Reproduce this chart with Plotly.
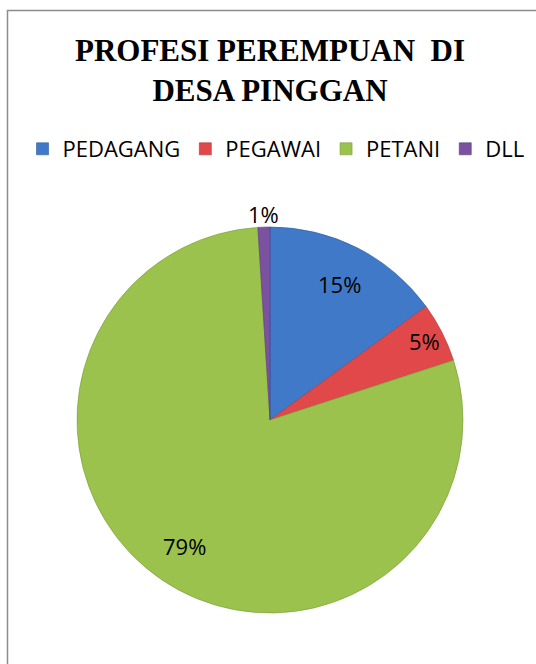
import math
import plotly.graph_objects as go

categories = ["PEDAGANG", "PEGAWAI", "PETANI", "DLL"]
values = [15, 5, 79, 1]
colors = ["#4179C9", "#E0484A", "#9BC24C", "#7A52A0"]
edge_colors = ["#2F5C9E", "#B33436", "#769A37", "#5A3A7C"]
label_radius = [0.79, 0.90, 0.79, 1.07]

W, H = 536, 664
cx, cy, r = 270, 420, 193

fig = go.Figure(
    go.Pie(
        labels=categories,
        values=values,
        sort=False,
        direction="clockwise",
        rotation=0,
        marker=dict(colors=colors, line=dict(color=edge_colors, width=0.6)),
        textinfo="none",
        domain=dict(x=[(cx - r) / W, (cx + r) / W], y=[(H - cy - r) / H, (H - cy + r) / H]),
        hoverinfo="label+percent",
    )
)

# percentage labels placed along each slice's mid-angle
total = sum(values)
annotations = []
cum = 0
for v, f in zip(values, label_radius):
    mid = (cum + v / 2) / total * 2 * math.pi
    cum += v
    px = cx + f * r * math.sin(mid)
    py = cy - f * r * math.cos(mid)
    annotations.append(
        dict(
            text=f"{round(100 * v / total)}%",
            x=px / W,
            y=1 - py / H,
            xref="paper",
            yref="paper",
            xanchor="center",
            yanchor="middle",
            showarrow=False,
            font=dict(family="Open Sans", size=22, color="#000000"),
        )
    )

fig.update_layout(
    width=W,
    height=H,
    margin=dict(l=0, r=0, t=0, b=0),
    paper_bgcolor="white",
    plot_bgcolor="white",
    title=dict(
        text="<b>PROFESI PEREMPUAN  DI<br>DESA PINGGAN</b>",
        font=dict(family="Liberation Serif", size=31, color="#000000"),
        x=270 / W,
        xanchor="center",
        y=1 - 61 / H,
        yanchor="top",
        yref="container",
    ),
    legend=dict(
        orientation="h",
        x=0.5 + 8 / W,
        xanchor="center",
        y=1 - 149 / H,
        yanchor="middle",
        font=dict(family="Open Sans", size=22, color="#000000"),
        itemclick=False,
        bgcolor="rgba(0,0,0,0)",
    ),
    annotations=annotations,
    shapes=[
        dict(
            type="rect",
            xref="paper",
            yref="paper",
            x0=7.5 / W,
            x1=1.05,
            y0=-0.05,
            y1=1 - 10.5 / H,
            line=dict(color="#8C8C8C", width=1.5),
            fillcolor="rgba(0,0,0,0)",
            layer="below",
        )
    ],
)

fig.write_html(
    "out.html",
    config={"displayModeBar": False},
    post_script="document.body.style.margin='0';document.documentElement.style.overflow='hidden';",
)
